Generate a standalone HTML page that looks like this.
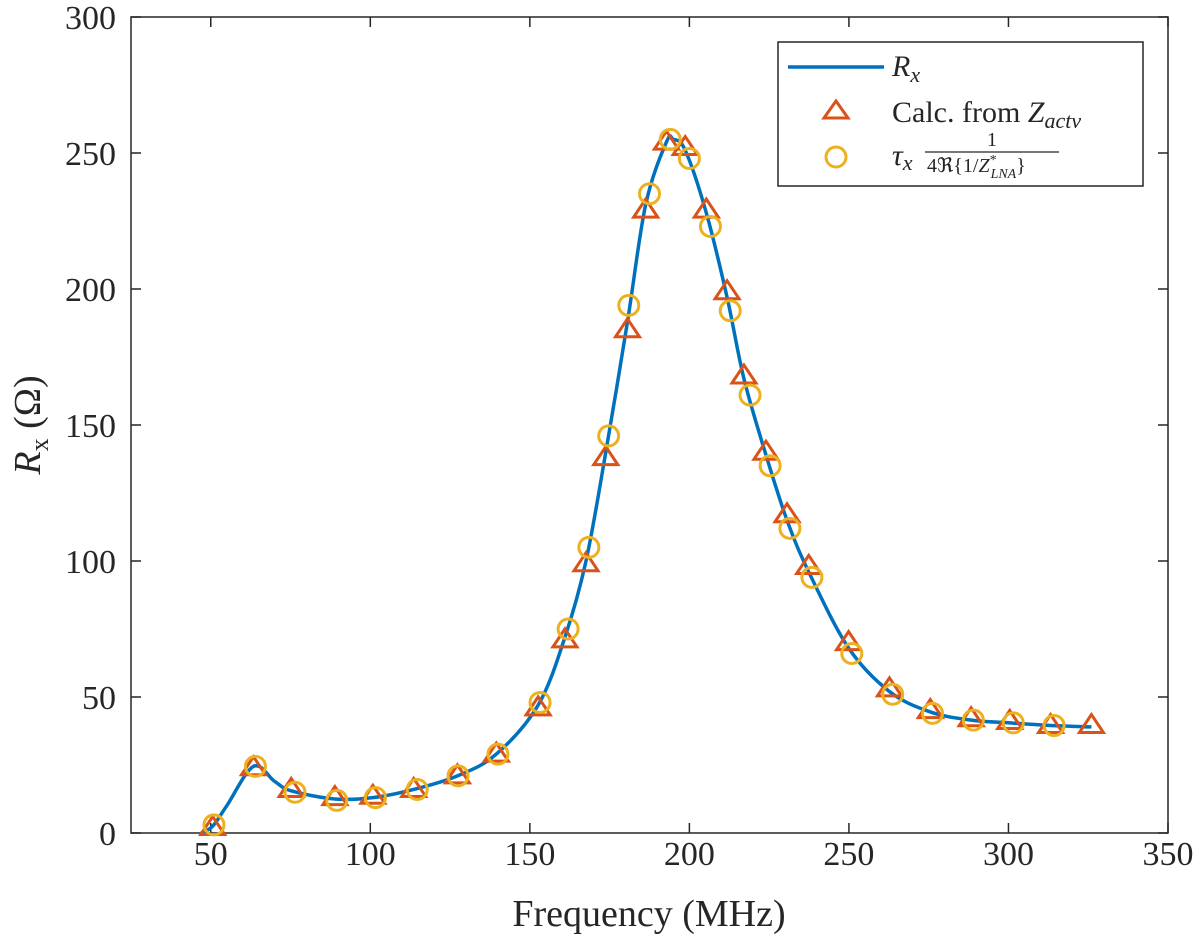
<!DOCTYPE html>
<html><head><meta charset="utf-8"><style>
html,body{margin:0;padding:0;background:#fff;}
svg text{font-family:"Liberation Serif",serif;fill:#262626;}
</style></head><body>
<svg id="chart" width="1200" height="944" viewBox="0 0 1200 944" xmlns="http://www.w3.org/2000/svg">
<g id="axes"></g>
<g id="plot"></g>
<text x="649" y="926" font-size="38" text-anchor="middle">Frequency (MHz)</text>
<text transform="translate(40,425) rotate(-90)" font-size="38" text-anchor="middle"><tspan font-style="italic">R</tspan><tspan font-size="26" dy="8">x</tspan><tspan dy="-8"> (Ω)</tspan></text>
<g>
<rect x="778" y="42" width="365" height="144" fill="#fff" stroke="#262626" stroke-width="1.5"/>
<line x1="788" y1="67" x2="884" y2="67" stroke="#0072bd" stroke-width="3.5"/>
<text x="892" y="76" font-size="30" font-style="italic">R<tspan font-size="22" dy="6">x</tspan></text>
<path d="M836,101 L848,118 L824,118 Z" fill="none" stroke="#d95319" stroke-width="3"/>
<text x="892" y="122" font-size="30">Calc.  from <tspan font-style="italic">Z</tspan><tspan font-style="italic" font-size="22" dy="6">actv</tspan></text>
<circle cx="836" cy="157" r="10" fill="none" stroke="#edb120" stroke-width="3"/>
<text x="892" y="165" font-size="30" font-style="italic">τ<tspan font-size="22" dy="5">x</tspan></text>
<text x="992" y="146" font-size="20" text-anchor="middle">1</text>
<line x1="925" y1="152" x2="1059" y2="152" stroke="#262626" stroke-width="1.2"/>
<text x="927" y="172" font-size="20">4ℜ{1/<tspan font-style="italic">Z</tspan><tspan font-size="14" dy="-8">*</tspan><tspan font-size="14" font-style="italic" dx="-6" dy="14">LNA</tspan><tspan dy="-6">}</tspan></text>
</g>
</svg>
<script>
const xTicks=[50,100,150,200,250,300,350];
const yTicks=[0,50,100,150,200,250,300];
const curveF=[47,50.6,55,63.4,70,75.2,88.9,100.8,113.6,127.3,139.5,152.6,161,167.6,173.8,180.6,186.3,192.8,195,198.7,205.3,211.8,217.1,224,230.6,237.4,249.9,262.7,275.5,288.3,300.4,313.2,326];
const curveV=[0,2.5,10,24.5,19,15.5,12.5,13,16,21,29,47,72,100,140,188,231,254,255,251,228,197,167,139,115,96,68,52,44.5,41.5,40.5,39.5,39];
const triF=[50.6,63.4,75.2,88.9,100.8,113.6,127.3,139.5,152.6,161,167.6,173.8,180.6,186.3,192.8,198.7,205.3,211.8,217.1,224,230.6,237.4,249.9,262.7,275.5,288.3,300.4,313.2,326];
const triV=[2,24,16,13,13.5,16,21,29,46,71,99,138,185,229,254,252,229,199,168,140,117,98,70,53,45,42,41,39.5,39.5];
const circF=[51,64,76.4,89.5,101.6,114.7,127.5,140,153.2,162,168.5,174.7,181,187.5,194,200,206.6,212.8,219,225.3,231.5,238.4,250.9,263.7,276.2,289,301.5,314.3];
const circV=[3,24.5,15,12,13,16,21,29,48,75,105,146,194,235,255,248,223,192,161,135,112,94,66,51,44,41.5,40.5,39.5];
const X0=131,X1=1168,Y0=833,Y1=17,XMIN=25,XMAX=350,YMIN=0,YMAX=300;
const sx=v=>X0+(v-XMIN)/(XMAX-XMIN)*(X1-X0);
const sy=v=>Y0-(v-YMIN)/(YMAX-YMIN)*(Y0-Y1);
const NS='http://www.w3.org/2000/svg';
const axes=document.getElementById('axes'),plot=document.getElementById('plot');
function mk(tag,attrs,parent){const e=document.createElementNS(NS,tag);for(const k in attrs)e.setAttribute(k,attrs[k]);parent.appendChild(e);return e;}
const frame=mk('rect',{x:X0,y:Y1,width:X1-X0,height:Y0-Y1,fill:'none',stroke:'#262626','stroke-width':1.5},axes);


xTicks.forEach(t=>{
 const x=sx(t);
 const l1=mk('path',{d:`M${x},${Y0}v-10M${x},${Y1}v10`,stroke:'#262626','stroke-width':1.5},axes);
 
 
 const tx=mk('text',{x:x,y:Y0+32,'font-size':34,'text-anchor':'middle'},axes);
 tx.textContent=t;
 
 
});
yTicks.forEach(t=>{
 const y=sy(t);
 const l1=mk('path',{d:`M${X0},${y}h10M${X1},${y}h-10`,stroke:'#262626','stroke-width':1.5},axes);
 
 
 const tx=mk('text',{x:X0-15,y:y+12,'font-size':34,'text-anchor':'end'},axes);
 tx.textContent=t;
 
 
});
const pts=curveF.map((f,i)=>[sx(f),sy(curveV[i])]);
let d=`M${pts[0][0]},${pts[0][1]}`;
for(let i=0;i<pts.length-1;i++){
 const p0=pts[Math.max(i-1,0)],p1=pts[i],p2=pts[i+1],p3=pts[Math.min(i+2,pts.length-1)];
 d+=`C${p1[0]+(p2[0]-p0[0])/6},${p1[1]+(p2[1]-p0[1])/6} ${p2[0]-(p3[0]-p1[0])/6},${p2[1]-(p3[1]-p1[1])/6} ${p2[0]},${p2[1]}`;
}
const line=mk('path',{d:d,fill:'none',stroke:'#0072bd','stroke-width':3.5},plot);


triF.forEach((f,i)=>{
 const x=sx(f),y=sy(triV[i]);
 const t=mk('path',{d:`M${x},${y-11}L${x+12},${y+7}L${x-12},${y+7}Z`,fill:'none',stroke:'#d95319','stroke-width':3},plot);
 
 
});
circF.forEach((f,i)=>{
 const c=mk('circle',{cx:sx(f),cy:sy(circV[i]),r:10,fill:'none',stroke:'#edb120','stroke-width':3},plot);
 
 
});
</script>
</body></html>
